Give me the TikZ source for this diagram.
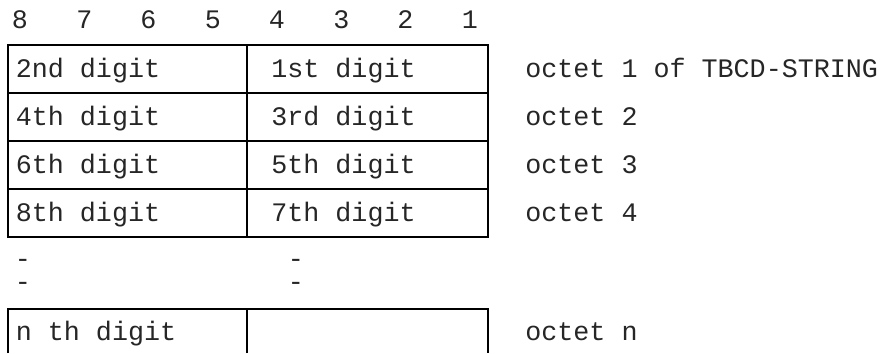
\documentclass[tikz,border=0pt]{standalone}
\usepackage{fontspec}
\setmainfont{Liberation Mono}
\usepackage{tikz}

\begin{document}
\begin{tikzpicture}[scale=1.0,
    every node/.style={font=\fontsize{15.2}{18}\selectfont, text=black!85},
    bitnum/.style={anchor=base, inner sep=0pt},
    celltext/.style={anchor=base west, inner sep=0pt},
    gap/.style={anchor=base, inner sep=0pt, align=center, font=\fontsize{15.2}{13}\selectfont}]
  \useasboundingbox (0,0) rectangle (17.64,7.06);
  % bit numbers
  \node[bitnum] (bit8) at (0.40,6.50) {8};
  \node[bitnum] (bit7) at (1.69,6.50) {7};
  \node[bitnum] (bit6) at (2.97,6.50) {6};
  \node[bitnum] (bit5) at (4.26,6.50) {5};
  \node[bitnum] (bit4) at (5.54,6.50) {4};
  \node[bitnum] (bit3) at (6.83,6.50) {3};
  \node[bitnum] (bit2) at (8.11,6.50) {2};
  \node[bitnum] (bit1) at (9.40,6.50) {1};
  % octets 1..4
  \draw[line width=0.7pt] (0.16,2.32) rectangle (9.76,6.16);
  \draw[line width=0.7pt] (0.16,5.20) -- (9.76,5.20);
  \draw[line width=0.7pt] (0.16,4.24) -- (9.76,4.24);
  \draw[line width=0.7pt] (0.16,3.28) -- (9.76,3.28);
  \draw[line width=0.7pt] (4.94,2.32) -- (4.94,6.16);
  \node[celltext] (dig2) at (0.31,5.52) {2nd digit};
  \node[celltext] (dig1) at (5.42,5.52) {1st digit};
  \node[celltext] (oct1) at (10.50,5.52) {octet 1 of TBCD-STRING};
  \node[celltext] (dig4) at (0.31,4.56) {4th digit};
  \node[celltext] (dig3) at (5.42,4.56) {3rd digit};
  \node[celltext] (oct2) at (10.50,4.56) {octet 2};
  \node[celltext] (dig6) at (0.31,3.60) {6th digit};
  \node[celltext] (dig5) at (5.42,3.60) {5th digit};
  \node[celltext] (oct3) at (10.50,3.60) {octet 3};
  \node[celltext] (dig8) at (0.31,2.64) {8th digit};
  \node[celltext] (dig7) at (5.42,2.64) {7th digit};
  \node[celltext] (oct4) at (10.50,2.64) {octet 4};
  % continuation marks
  \node[gap] (gapl) at (0.46,1.25) {-\\-};
  \node[gap] (gapr) at (5.92,1.25) {-\\-};
  % last octet, open at the bottom
  \draw[line width=0.7pt] (0.16,0) -- (0.16,0.88) -- (9.76,0.88) -- (9.76,0);
  \draw[line width=0.7pt] (4.94,0) -- (4.94,0.88);
  \node[celltext] (digN) at (0.31,0.26) {n th digit};
  \node[celltext] (octN) at (10.50,0.26) {octet n};
\end{tikzpicture}
\end{document}
